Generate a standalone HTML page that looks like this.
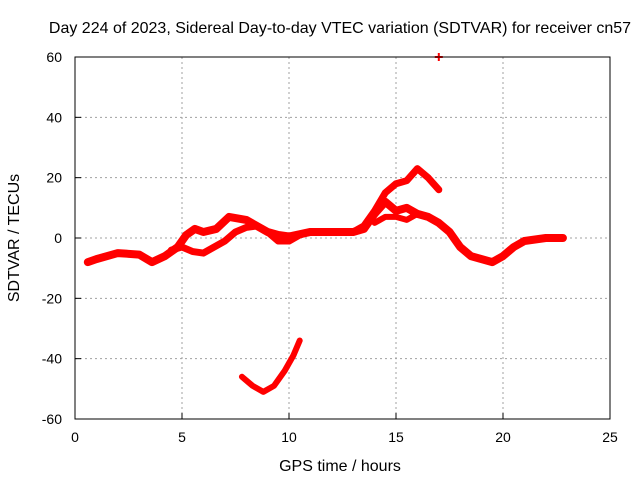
<!DOCTYPE html>
<html><head><meta charset="utf-8"><style>
body{margin:0;background:#fff}
svg{display:block;font-family:"Liberation Sans",sans-serif}
</style></head><body>
<svg id="chart" width="640" height="480" viewBox="0 0 640 480">
<rect width="640" height="480" fill="#fff"/>
<text x="340" y="33" font-size="16" text-anchor="middle">Day 224 of 2023, Sidereal Day-to-day VTEC variation (SDTVAR) for receiver cn57</text>
<text x="340" y="471" font-size="16" text-anchor="middle">GPS time / hours</text>
<text x="19" y="238" font-size="16" text-anchor="middle" transform="rotate(-90 19 238)">SDTVAR / TECUs</text>
<g id="grid"></g><g id="ticks"></g><g id="marks"></g>
<rect x="75" y="57" width="535" height="362" fill="none" stroke="#000" stroke-width="1"/>
</svg>
<script>
const xTicks=[0,5,10,15,20,25];
const yTicks=[-60,-40,-20,0,20,40,60];
const trackMainX=[0.6,1,2,3,3.6,4.2,4.8,5.2,5.6,6,6.6,7.2,8,9,9.5,10,11,12,13,13.5,14,14.5,15,15.5,16,16.5,17,17.5,18,18.5,19,19.5,20,20.5,21,22,22.8];
const trackMainY=[-8,-7,-5,-5.5,-8,-6,-3,1,3,2,3,7,6,2,1,0.5,2,2,2,3,8,12,9,10,8,7,5,2,-3,-6,-7,-8,-6,-3,-1,0,0];
const trackUpperX=[4.5,5,5.5,6,6.5,7,7.5,8,8.5,9,9.5,10,10.5,11,12,13,13.5,14,14.5,15,15.5,16,16.5,17];
const trackUpperY=[-4,-3,-4.5,-5,-3,-1,2,3.5,4,2,-1,-1,1,2,2,2,4,9,15,18,19,23,20,16];
const trackMidX=[14,14.5,15,15.5,16,16.5];
const trackMidY=[5,7,7,6,8,7];
const trackLowX=[7.8,8.3,8.8,9.3,9.8,10.2,10.5];
const trackLowY=[-46,-49,-51,-49,-44,-39,-34];
const outlierX=[17];
const outlierY=[60];
const L=75,R=610,T=57,B=419;
const sx=v=>L+(v-0)/25*(R-L);
const sy=v=>B-(v+60)/120*(B-T);
const NS='http://www.w3.org/2000/svg';
function mk(tag,attrs,parent){const e=document.createElementNS(NS,tag);for(const k in attrs)e.setAttribute(k,attrs[k]);document.getElementById(parent).appendChild(e);return e;}
xTicks.forEach(t=>{
  if(t>0&&t<25){const g=mk('line',{x1:sx(t),x2:sx(t),y1:T,y2:B,stroke:'#a0a0a0','stroke-dasharray':'2,3'},'grid');
  
  }
  const tx=mk('text',{x:sx(t),y:B+23,'font-size':14,'text-anchor':'middle'},'ticks');tx.textContent=t;
  
  
  mk('line',{x1:sx(t),x2:sx(t),y1:B,y2:B-6,stroke:'#000'},'ticks');
});
yTicks.forEach(t=>{
  if(t>-60&&t<60){const g=mk('line',{x1:L,x2:R,y1:sy(t),y2:sy(t),stroke:'#a0a0a0','stroke-dasharray':'2,3'},'grid');
  
  }
  const tx=mk('text',{x:L-13,y:sy(t)+5,'font-size':14,'text-anchor':'end'},'ticks');tx.textContent=t;
  
  
  mk('line',{x1:L,x2:L+6,y1:sy(t),y2:sy(t),stroke:'#000'},'ticks');
});
function track(xs,ys,name,w){
  const p=mk('polyline',{points:xs.map((x,i)=>sx(x)+','+sy(ys[i])).join(' '),fill:'none',stroke:'#f00','stroke-width':w,'stroke-linejoin':'round','stroke-linecap':'round'},'marks');
  
  
}
track(trackMainX,trackMainY,'sdtvar-track-main',8);
track(trackUpperX,trackUpperY,'sdtvar-track-upper',7);
track(trackMidX,trackMidY,'sdtvar-track-mid',6);
track(trackLowX,trackLowY,'sdtvar-track-low',6);
outlierX.forEach((x,i)=>{
  const p=mk('path',{d:`M${sx(x)-4},${sy(outlierY[i])}h8M${sx(x)},${sy(outlierY[i])-4}v8`,stroke:'#f00','stroke-width':2},'marks');
  
  
});
</script>
</body></html>
